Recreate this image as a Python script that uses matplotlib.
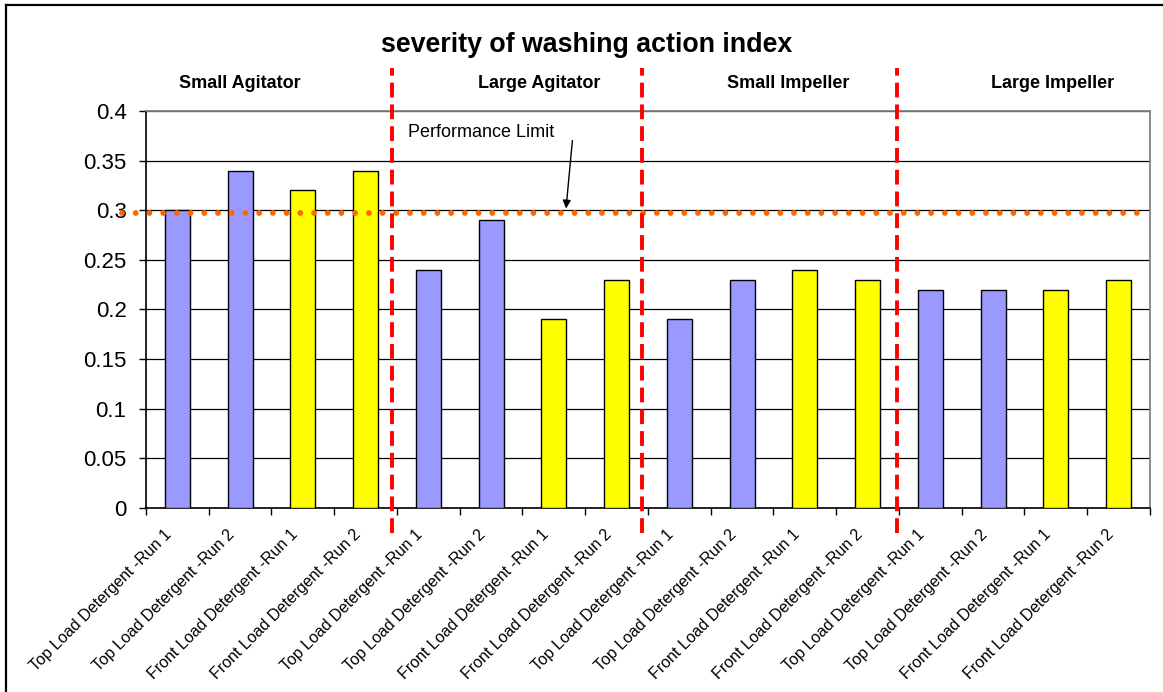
import matplotlib.pyplot as plt
import matplotlib.transforms as mtransforms
from matplotlib.lines import Line2D

plt.rcParams['font.family'] = ['Liberation Sans', 'DejaVu Sans']

# data
labels = ['Top Load Detergent -Run 1', 'Top Load Detergent -Run 2',
          'Front Load Detergent -Run 1', 'Front Load Detergent -Run 2'] * 4
values = [0.30, 0.34, 0.32, 0.34,
          0.24, 0.29, 0.19, 0.23,
          0.19, 0.23, 0.24, 0.23,
          0.22, 0.22, 0.22, 0.23]
detergent = ['top', 'top', 'front', 'front'] * 4
groups = ['Small Agitator', 'Large Agitator', 'Small Impeller', 'Large Impeller']
group_x = [1.0, 5.76, 9.73, 13.94]
divider_x = [3.42, 7.41, 11.47]
limit = 0.297

colors = {'top': '#9999FF', 'front': '#FFFF00'}

fig = plt.figure(figsize=(11.63, 6.92), dpi=100)
ax = fig.add_axes([0.1255, 0.2659, 0.8633, 0.5737])

x = list(range(len(values)))
ax.bar(x, values, width=0.4, color=[colors[d] for d in detergent],
       edgecolor='black', linewidth=1, zorder=3)

ax.set_xlim(-0.5, len(values) - 0.5)
ax.set_ylim(0, 0.4)
ax.set_yticks([i * 0.05 for i in range(9)])
ax.set_yticklabels(['0', '0.05', '0.1', '0.15', '0.2', '0.25', '0.3', '0.35', '0.4'])
ax.tick_params(axis='y', labelsize=16, direction='out', length=5, width=1, pad=9)
ax.yaxis.grid(True, color='black', linewidth=0.9, zorder=1)

# category labels at centers, tick marks on category boundaries
ax.set_xticks(x)
ax.set_xticklabels(labels, rotation=45, ha='right', va='top',
                   rotation_mode='anchor', fontsize=11.5)
ax.tick_params(axis='x', length=0, pad=10)
shift = mtransforms.ScaledTranslation(-0.13, -0.05, fig.dpi_scale_trans)
for lab in ax.get_xticklabels():
    lab.set_transform(lab.get_transform() + shift)
ax.set_xticks([i - 0.5 for i in range(len(values) + 1)], minor=True)
ax.tick_params(axis='x', which='minor', direction='out', length=5, width=1)

for side in ['top', 'right']:
    ax.spines[side].set_color('#808080')
    ax.spines[side].set_linewidth(1.3)
ax.spines['left'].set_linewidth(1.2)
ax.spines['bottom'].set_linewidth(1.2)

# performance limit line (dotted orange)
ax.plot([-0.88, len(values) - 0.5], [limit, limit], color='#FF6600', lw=4.2,
        linestyle=(0, (0.001, 2.35)), dash_capstyle='round', clip_on=False, zorder=5)

# group dividers
for dx in divider_x:
    ax.axvline(dx, ymin=-0.063, ymax=1.108, color='#FF0000', lw=2.8,
               linestyle=(0, (3.8, 1.8)), clip_on=False, zorder=6)

# group labels
for gx, g in zip(group_x, groups):
    ax.text(gx, 0.4 + 0.028, g, ha='center', va='center', fontsize=13,
            fontweight='bold')

ax.annotate('', xy=(6.19, 0.299), xytext=(6.30, 0.373),
            arrowprops=dict(arrowstyle='-|>', color='black', lw=1,
                            mutation_scale=12), zorder=7)
ax.text(3.67, 0.378, 'Performance Limit', fontsize=13, va='center', ha='left')

fig.text(587 / 1163, 1 - 45 / 692, 'severity of washing action index',
         ha='center', va='center', fontsize=19.3, fontweight='bold')

# chart area border (cropped on right/bottom like the reference)
fig.add_artist(Line2D([6 / 1163, 6 / 1163], [0, 1 - 5 / 692], color='black', lw=1.6))
fig.add_artist(Line2D([6 / 1163, 1], [1 - 5 / 692, 1 - 5 / 692], color='black', lw=1.6))

fig.savefig('out.png', dpi=100)
